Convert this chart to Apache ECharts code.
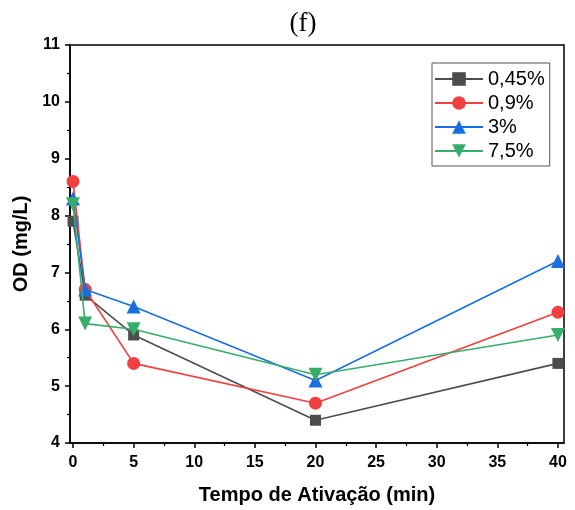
<!DOCTYPE html>
<html>
<head>
<meta charset="utf-8">
<script src="https://cdn.jsdelivr.net/npm/echarts@6/dist/echarts.min.js"></script>
<style>
  html, body { margin: 0; padding: 0; background: #fff; }
  #chart { width: 575px; height: 510px; }
</style>
</head>
<body>
<div id="chart"></div>
<script>
// Activation time (min) and dissolved oxygen (mg/L) for each concentration
const times = [0, 1, 5, 20, 40];
const seriesNames = ['0,45%', '0,9%', '3%', '7,5%'];
const od045 = [7.9, 6.6, 5.9, 4.4, 5.4];
const od09 = [8.6, 6.7, 5.4, 4.7, 6.3];
const od3 = [8.3, 6.7, 6.4, 5.1, 7.2];
const od75 = [8.2, 6.1, 6.0, 5.2, 5.9];
const xMajorTicks = [0, 5, 10, 15, 20, 25, 30, 35, 40];
const xMinorTicks = [2.5, 7.5, 12.5, 17.5, 22.5, 27.5, 32.5, 37.5];

const colors = ['#4d4d4d', '#f14040', '#1a6fdf', '#37ad6b'];
const symbols = ['rect', 'circle', 'triangle', 'triangle'];
const symbolSizes = [11, 13, 14, 14];
const rotations = [0, 0, 0, 180];
const values = [od045, od09, od3, od75];

const pair = (ys) => times.map((t, i) => [t, ys[i]]);

const chart = echarts.init(document.getElementById('chart'));
const xMin = -0.25, xMax = 40.5;
const sans = 'Liberation Sans, Arial, sans-serif';
const tickFont = { fontFamily: sans, fontWeight: 'bold', fontSize: 16, color: '#000' };
const nameFont = { fontFamily: sans, fontWeight: 'bold', fontSize: 20, color: '#000' };

chart.setOption({
  animation: false,
  title: {
    text: '(f)',
    left: 298, top: 5, textAlign: 'center',
    textStyle: { fontFamily: 'Liberation Serif, Times New Roman, serif', fontWeight: 'normal', fontSize: 27, color: '#000' }
  },
  grid: {
    left: 70, right: 11, top: 45, bottom: 67,
    show: true, borderColor: '#000', borderWidth: 1.5, backgroundColor: 'transparent'
  },
  legend: {
    left: 432, top: 63,
    orient: 'vertical',
    data: seriesNames,
    itemWidth: 48, itemHeight: 17, itemGap: 4,
    padding: [6, 5, 5, 2],
    borderColor: '#555', borderWidth: 1,
    textStyle: { fontFamily: sans, fontSize: 20, color: '#000' }
  },
  xAxis: [
    {
      type: 'value', min: xMin, max: xMax,
      name: 'Tempo de Ativação (min)', nameLocation: 'middle', nameGap: 42,
      nameTextStyle: nameFont,
      axisLine: { show: true, onZero: false, lineStyle: { color: '#000', width: 1.5 } },
      axisTick: { show: true, length: 5, customValues: xMajorTicks, lineStyle: { color: '#000', width: 1.5 } },
      axisLabel: Object.assign({ customValues: xMajorTicks, margin: 12 }, tickFont),
      splitLine: { show: false }
    },
    {
      type: 'value', min: xMin, max: xMax, position: 'bottom',
      axisLine: { show: false },
      axisTick: { show: true, length: 3, customValues: xMinorTicks, lineStyle: { color: '#000', width: 1.2 } },
      axisLabel: { show: false },
      splitLine: { show: false }
    }
  ],
  yAxis: {
    type: 'value', min: 4, max: 11, interval: 1,
    name: 'OD (mg/L)', nameLocation: 'middle', nameGap: 34,
    nameTextStyle: nameFont,
    axisLine: { show: true, onZero: false, lineStyle: { color: '#000', width: 1.5 } },
    axisTick: { show: true, length: 5, lineStyle: { color: '#000', width: 1.5 } },
    minorTick: { show: true, splitNumber: 2, length: 3, lineStyle: { color: '#000', width: 1.2 } },
    axisLabel: Object.assign({ margin: 10 }, tickFont),
    splitLine: { show: false }
  },
  series: seriesNames.map((name, k) => ({
    name: name,
    type: 'line',
    xAxisIndex: 0,
    data: pair(values[k]),
    symbol: symbols[k],
    symbolSize: symbolSizes[k],
    symbolRotate: rotations[k],
    clip: false,
    z: 2 + k,
    lineStyle: { color: colors[k], width: 1.6 },
    itemStyle: { color: colors[k] }
  }))
});
</script>
</body>
</html>
